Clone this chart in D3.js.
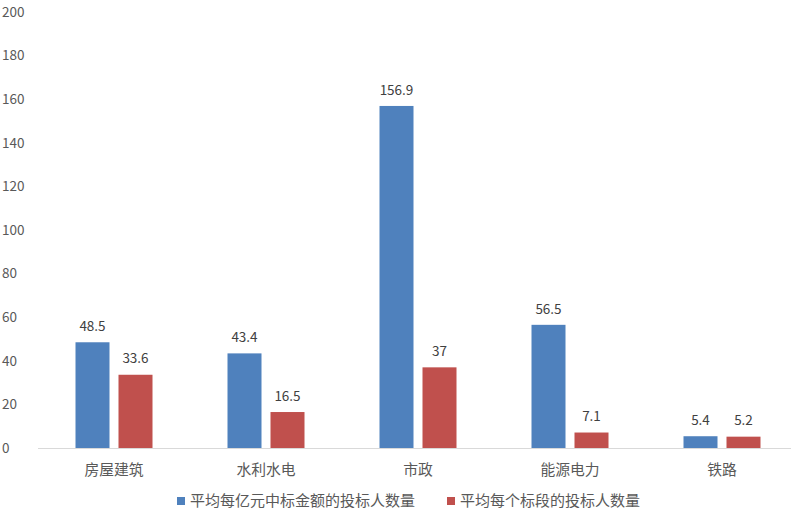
<!DOCTYPE html>
<html><head><meta charset="utf-8">
<script src="https://cdn.jsdelivr.net/npm/d3@7"></script>
<style>body{margin:0;background:#fff;} svg{display:block;}</style>
</head><body>
<svg id="c" width="791" height="515"></svg>
<script>
const categories = ["房屋建筑","水利水电","市政","能源电力","铁路"];
const seriesNames = ["平均每亿元中标金额的投标人数量","平均每个标段的投标人数量"];
const seriesA = [48.5, 43.4, 156.9, 56.5, 5.4];
const seriesB = [33.6, 16.5, 37, 7.1, 5.2];
const yTicks = [0,20,40,60,80,100,120,140,160,180,200];
const colors = ["#4f81bd","#c0504d"];
const font = "'Noto Sans CJK SC','Noto Sans',sans-serif";

const svg = d3.select("#c");
const x = d3.scaleBand().domain(categories).range([38, 798]).paddingInner(0).paddingOuter(0);
const y = d3.scaleLinear().domain([0,200]).range([448, 12]);
const barW = 34, gap = 9;
const series = [seriesA, seriesB];

// y labels
svg.append("g").selectAll("text").data(yTicks).join("text")
  .attr("x", 2).attr("y", d => y(d)).attr("dy","0.35em")
  .attr("font-family", font).attr("font-size", 13.5).attr("fill","#595959").text(d => d);

// axis line
svg.append("line").attr("x1",38).attr("x2",798).attr("y1",448.5).attr("y2",448.5)
  .attr("stroke","#d9d9d9").attr("stroke-width",1);

series.forEach((s, si) => {
  const off = si === 0 ? -(barW + gap/2) : gap/2;
  const g = svg.append("g");
  g.selectAll("rect").data(s).join("rect")
    .attr("x", (d,i) => x(categories[i]) + x.bandwidth()/2 + off)
    .attr("y", d => y(d)).attr("width", barW).attr("height", d => y(0) - y(d))
    .attr("fill", colors[si]);
  g.selectAll("text").data(s).join("text")
    .attr("x", (d,i) => x(categories[i]) + x.bandwidth()/2 + off + barW/2)
    .attr("y", d => y(d) - 16).attr("dy","0.35em").attr("text-anchor","middle")
    .attr("font-family", font).attr("font-size", 13.5).attr("fill","#404040").text(d => d);
});

// category labels
svg.append("g").selectAll("text").data(categories).join("text")
  .attr("x", d => x(d) + x.bandwidth()/2).attr("y", 470).attr("dy","0.35em")
  .attr("text-anchor","middle").attr("font-family", font).attr("font-size", 14.8)
  .attr("fill","#595959").text(d => d);

// legend
const legX = [177, 447];
seriesNames.forEach((n, i) => {
  svg.append("rect").attr("x", legX[i]).attr("y", 497).attr("width", 8).attr("height", 8).attr("fill", colors[i]);
  svg.append("text").attr("x", legX[i] + 13).attr("y", 501).attr("dy","0.35em")
    .attr("font-family", font).attr("font-size", 15).attr("fill","#595959").text(n);
});
</script>
</body></html>
